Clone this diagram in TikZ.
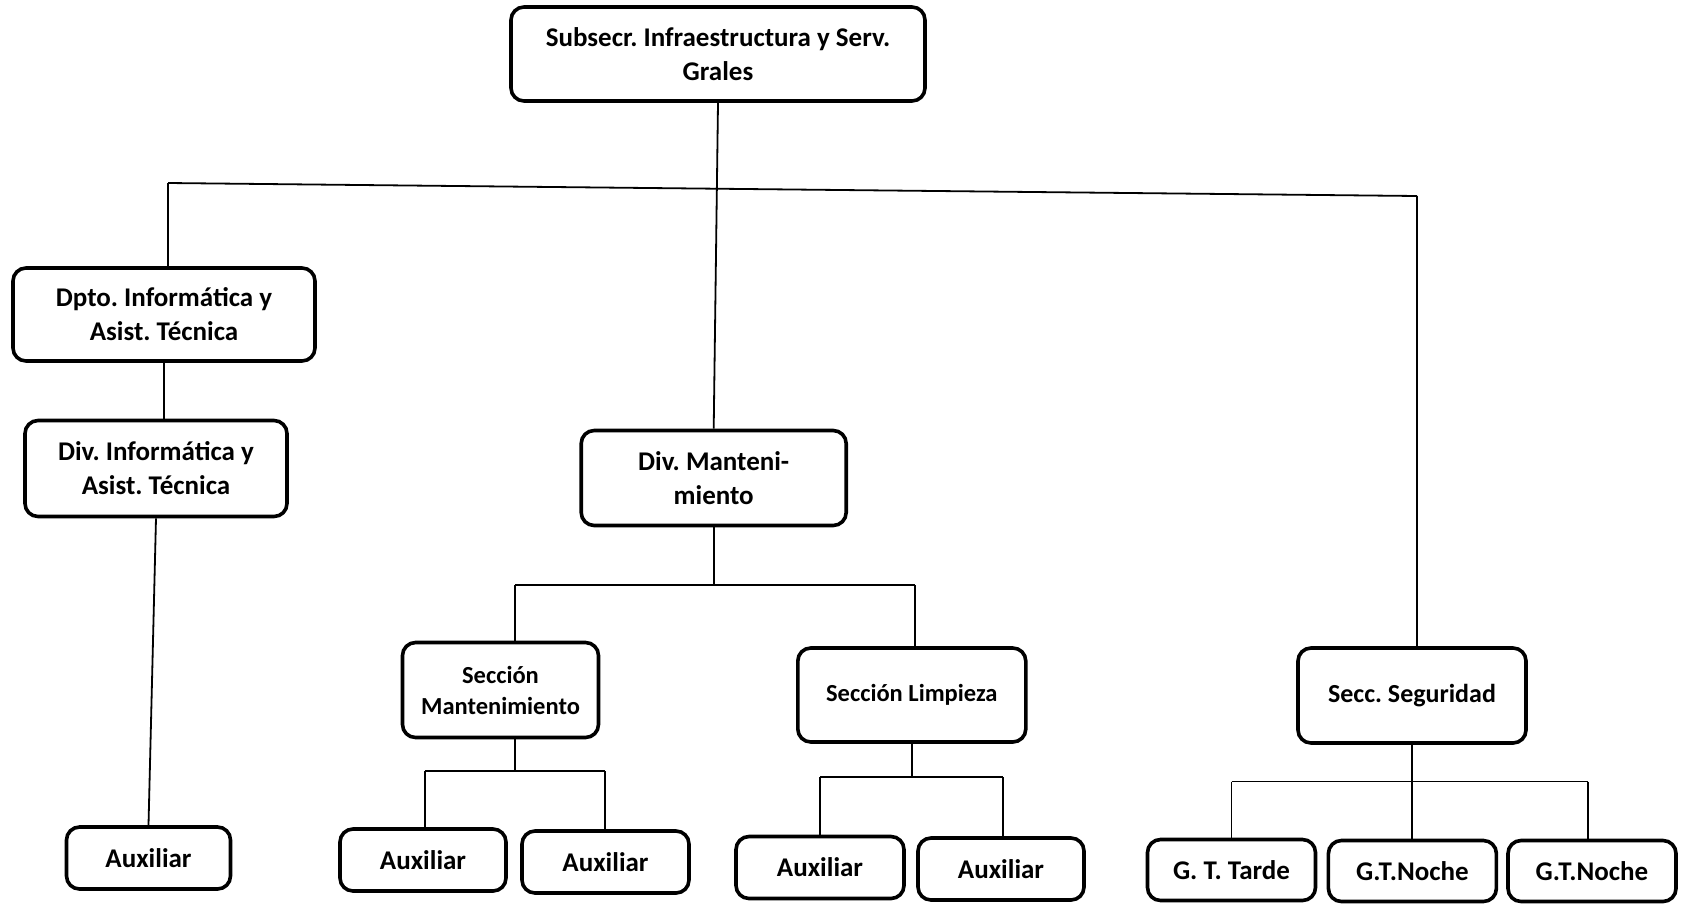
\documentclass[tikz,border=0pt]{standalone}
\usepackage{fontspec}
\setmainfont{Carlito}
\frenchspacing
\begin{document}
\begin{tikzpicture}[x=1pt,y=-1pt,
  unit/.style={draw=black,line width=3.6pt,rounded corners=13pt,fill=white,
    inner sep=0pt,align=center,font=\bfseries\fontsize{27}{34}\selectfont},
  small/.style={font=\bfseries\fontsize{24.5}{31}\selectfont},
  link/.style={draw=black,line width=1.8pt}]
\useasboundingbox (0,0) rectangle (1688,903);

% boxes: center, width, height
\node[unit,minimum width=414pt,minimum height=94pt] (top) at (718,54)
  {Subsecr. Infraestructura y Serv.\\Grales};
\node[unit,minimum width=302pt,minimum height=93pt] (dpto) at (164,314.5)
  {Dpto. Informática y\\Asist. Técnica};
\node[unit,minimum width=262pt,minimum height=96pt] (divinfo) at (156,468.5)
  {Div. Informática y\\Asist. Técnica};
\node[unit,minimum width=164pt,minimum height=62pt] (aux1) at (148.5,858) {Auxiliar};
\node[unit,minimum width=265pt,minimum height=95pt] (divmant) at (713.7,478)
  {Div. Manteni-\\miento};
\node[unit,small,minimum width=196pt,minimum height=95pt] (secmant) at (500.5,690)
  {Sección\\Mantenimiento};
\node[unit,small,minimum width=228pt,minimum height=94pt] (seclimp) at (911.8,695)
  {Sección Limpieza};
\node[unit,minimum width=166pt,minimum height=62pt] (aux2) at (423,860) {Auxiliar};
\node[unit,minimum width=167pt,minimum height=62pt] (aux3) at (605.5,862) {Auxiliar};
\node[unit,minimum width=168pt,minimum height=62pt] (aux4) at (820,867.5) {Auxiliar};
\node[unit,minimum width=166pt,minimum height=62pt] (aux5) at (1001,869) {Auxiliar};
\node[unit,font=\bfseries\fontsize{26}{32}\selectfont,minimum width=228pt,minimum height=95pt]
  (secseg) at (1412,695.5) {Secc. Seguridad};
\node[unit,minimum width=168pt,minimum height=61pt] (gtt) at (1231.5,870) {G. T. Tarde};
\node[unit,minimum width=168pt,minimum height=61pt] (gtn1) at (1412.4,871) {G.T.Noche};
\node[unit,minimum width=168pt,minimum height=61pt] (gtn2) at (1592,871) {G.T.Noche};

% main bus
\coordinate (busL) at (168,183);
\coordinate (busR) at (1417,196);
\draw[link] (busL) -- (busR);
\draw[link] (top.south) -- (divmant.north);
\draw[link] (busL) -- (busL |- dpto.north);
\draw[link] (busR) -- (busR |- secseg.north);

% left branch
\draw[link] (dpto.south) -- (dpto.south |- divinfo.north);
\draw[link] (divinfo.south) -- (aux1.north);

% maintenance branch
\coordinate (mL) at (515,585);
\coordinate (mR) at (915,585);
\draw[link] (divmant.south) -- (divmant.south |- mL);
\draw[link] (mL) -- (mR);
\draw[link] (mL) -- (mL |- secmant.north);
\draw[link] (mR) -- (mR |- seclimp.north);

\coordinate (sL) at (425,771);
\coordinate (sR) at (605,771);
\draw[link] (secmant.south -| mL) -- (mL |- sL);
\draw[link] (sL) -- (sR);
\draw[link] (sL) -- (sL |- aux2.north);
\draw[link] (sR) -- (sR |- aux3.north);

\coordinate (lL) at (820,777);
\coordinate (lR) at (1003,777);
\draw[link] (seclimp.south) -- (seclimp.south |- lL);
\draw[link] (lL) -- (lR);
\draw[link] (lL) -- (lL |- aux4.north);
\draw[link] (lR) -- (lR |- aux5.north);

% security branch
\coordinate (gL) at (1231.5,781.5);
\coordinate (gR) at (1588,781.5);
\draw[link] (secseg.south) -- (secseg.south |- gL);
\draw[link] (gL) -- (gR);
\draw[link] (gL) -- (gL |- gtt.north);
\draw[link] (secseg.south |- gL) -- (secseg.south |- gtn1.north);
\draw[link] (gR) -- (gR |- gtn2.north);
\end{tikzpicture}
\end{document}
